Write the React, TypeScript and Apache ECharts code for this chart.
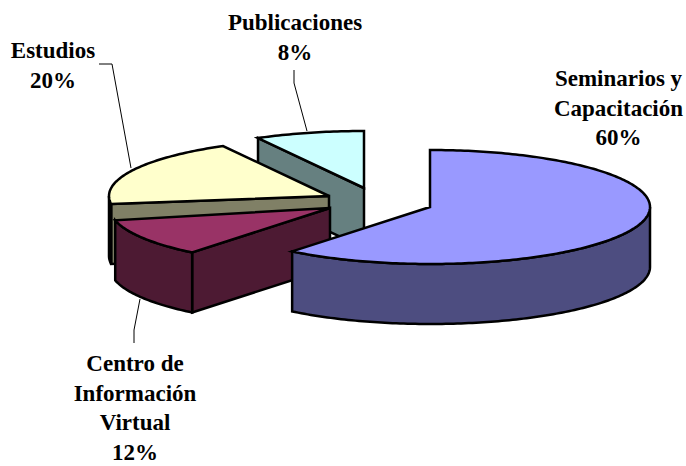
import React, { useEffect, useRef } from "react";
import * as echarts from "echarts";

// ---- data ----
const sliceNames = ["Seminarios y Capacitación", "Centro de Información Virtual", "Estudios", "Publicaciones"];
const sliceValues = [60, 12, 20, 8];
const labelLines = [
  ["Seminarios y", "Capacitación"],
  ["Centro de", "Información", "Virtual"],
  ["Estudios"],
  ["Publicaciones"],
];

// ---- styles / layout ----
const topColors = ["#9999FF", "#993366", "#FFFFCC", "#CCFFFF"];
const sideColors = ["#4D4D80", "#4D1A33", "#808066", "#668080"];
const rimColors = ["#4D4D80", "#4D1A33", "#000000", "#668080"];
const apexX = [430, 330, 329, 364];
const apexY = [207, 208, 196, 188];
const startNudge = [0, 2.8, 2.8, 0];
const endNudge = [2.8, -1.7, 0, 0];
const drawOrder = [3, 2, 1, 0];
const RX = 220;
const RY = 57;
const DEPTH = 60;
const labelX = [618.5, 135, 53, 295];
const labelY = [64, 349, 36, 8];
const leaders = [
  [[134, 343], [134, 330], [140, 299]],
  [[99, 64], [112, 64], [131, 168]],
  [[294, 70], [294, 83], [307, 131]],
];

const rad = (d: number) => (d * Math.PI) / 180;

function sliceAngles(idx: number) {
  const total = sliceValues.reduce((a, b) => a + b, 0);
  let acc = 0;
  for (let i = 0; i < idx; i++) acc += sliceValues[i];
  return {
    a: (acc / total) * 360 + startNudge[idx],
    b: ((acc + sliceValues[idx]) / total) * 360 + endNudge[idx],
  };
}

function renderSlice(params: any, api: any) {
  const pos = api.value(0) as number; // draw position in the back-to-front order
  const idx = drawOrder[pos];
  const { a, b } = sliceAngles(idx);
  const cx = apexX[idx];
  const cy = apexY[idx];
  const pt = (t: number, dz = 0) => [cx + RX * Math.sin(rad(t)), cy - RY * Math.cos(rad(t)) + dz];
  const arc = (from: number, to: number, dz = 0) => {
    const out: number[][] = [];
    const n = Math.max(2, Math.ceil(Math.abs(to - from)));
    for (let i = 0; i <= n; i++) out.push(pt(from + ((to - from) * i) / n, dz));
    return out;
  };
  const common = { stroke: "#000", lineWidth: 2.5, lineJoin: "miter", miterLimit: 4 };
  const children: any[] = [];
  const side = sideColors[idx];

  const wall = (t: number) => ({
    type: "polygon",
    shape: { points: [[cx, cy], pt(t), pt(t, DEPTH), [cx, cy + DEPTH]] },
    style: { ...common, fill: side },
  });
  // a cut face is visible when its outward normal points towards the viewer
  if (Math.cos(rad(a - 90)) < 0) children.push(wall(a));
  if (Math.cos(rad(b + 90)) < 0) children.push(wall(b));

  // outer rim: only the part facing the viewer (90..270 degrees)
  const r0 = Math.max(a, 90);
  const r1 = Math.min(b, 270);
  if (r1 > r0) {
    children.push({
      type: "polygon",
      shape: { points: [...arc(r0, r1), ...arc(r1, r0, DEPTH)] },
      style: { ...common, fill: rimColors[idx] },
    });
  }
  children.push({
    type: "polygon",
    shape: { points: [[cx, cy], ...arc(a, b)] },
    style: { ...common, fill: topColors[idx] },
  });
  return { type: "group", children };
}

export default function App() {
  const ref = useRef<HTMLDivElement>(null);
  useEffect(() => {
    const chart = echarts.init(ref.current!, undefined, { renderer: "svg" });
    const font = { fontFamily: "Liberation Serif", fontWeight: "bold" as const, fontSize: 23 };
    const labels = sliceNames.map((_, i) => ({
      type: "text",
      z: 1,
      x: labelX[i],
      y: labelY[i],
      style: {
        ...font,
        text: [...labelLines[i], `${sliceValues[i]}%`].join("\n"),
        textAlign: "center",
        textVerticalAlign: "top",
        lineHeight: 29.5,
        fill: "#000",
      },
    }));
    const lines = leaders.map((points) => ({
      type: "polyline",
      z: 1,
      shape: { points },
      style: { stroke: "#000", lineWidth: 1, fill: "none" },
    }));
    chart.setOption({
      animation: false,
      backgroundColor: "#fff",
      graphic: { elements: [...lines, ...labels] },
      series: [
        {
          type: "custom",
          coordinateSystem: "none",
          z: 5,
          silent: true,
          renderItem: renderSlice,
          data: drawOrder.map((_, i) => [i]),
        },
      ],
    });
    return () => chart.dispose();
  }, []);
  return <div ref={ref} style={{ position: "absolute", left: 0, top: 0, width: 686, height: 466 }} />;
}
